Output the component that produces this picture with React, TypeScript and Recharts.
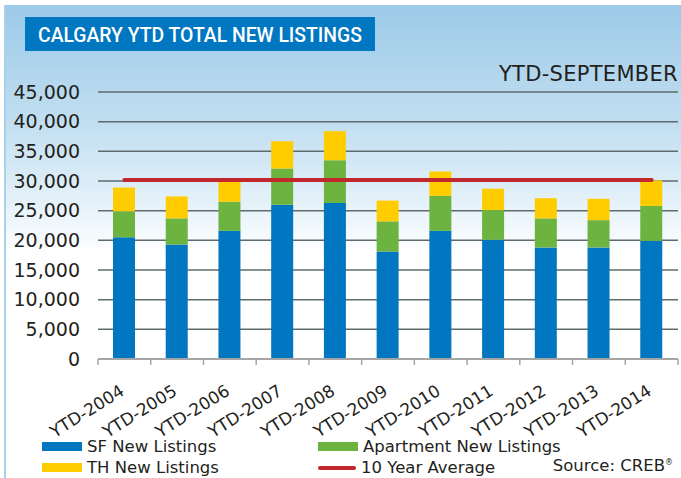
import { ComposedChart, Bar, Line, XAxis, YAxis, CartesianGrid, Legend } from 'recharts'

const years = ['YTD-2004', 'YTD-2005', 'YTD-2006', 'YTD-2007', 'YTD-2008', 'YTD-2009', 'YTD-2010', 'YTD-2011', 'YTD-2012', 'YTD-2013', 'YTD-2014']
const sfListings = [20500, 19300, 21600, 26000, 26300, 18100, 21600, 20100, 18800, 18800, 19900]
const apartmentListings = [4400, 4400, 4900, 6100, 7200, 5100, 5900, 5000, 4900, 4600, 5900]
const thListings = [4000, 3700, 3400, 4600, 4900, 3500, 4100, 3600, 3400, 3600, 4300]
const tenYearAverage = 30150
const yTicks = [0, 5000, 10000, 15000, 20000, 25000, 30000, 35000, 40000, 45000]
const legendOrder = ['SF New Listings', 'Apartment New Listings', 'TH New Listings', '10 Year Average']

const W = 681
const H = 478
const FONT = '"DejaVu Sans", sans-serif'
const TEXT = '#231f20'
const PLOT_LEFT = 98
const PLOT_RIGHT = 3

const data = years.map((name, i) => ({
  name,
  sf: sfListings[i],
  apt: apartmentListings[i],
  th: thListings[i],
  avg: tenYearAverage,
}))

function XTick(props: any) {
  const { x, y, payload, index } = props
  const half = (W - PLOT_LEFT - PLOT_RIGHT) / years.length / 2
  const last = index === years.length - 1
  const tx = x + 1
  const ty = y + 35
  return (
    <g>
      <line x1={x - half} x2={x - half} y1={y} y2={y + 6} stroke="#a6a6a6" strokeWidth={1.5} />
      {last && <line x1={x + half} x2={x + half} y1={y} y2={y + 6} stroke="#a6a6a6" strokeWidth={1.5} />}
      <text
        x={tx}
        y={ty}
        transform={`rotate(-32 ${tx} ${ty})`}
        textAnchor="end"
        fontFamily={FONT}
        fontSize={17}
        fill={TEXT}
      >
        {payload.value}
      </text>
    </g>
  )
}

function LegendContent({ payload }: any) {
  const items = [...(payload || [])].sort((a: any, b: any) => legendOrder.indexOf(a.value) - legendOrder.indexOf(b.value))
  return (
    <div style={{ display: 'grid', gridTemplateColumns: '276px 276px', rowGap: 2, fontFamily: FONT, fontSize: 16.5, color: TEXT }}>
      {items.map((item: any) => (
        <div key={item.value} style={{ display: 'flex', alignItems: 'center', height: 19 }}>
          {item.type === 'line' ? (
            <span style={{ width: 38, height: 4, borderRadius: 2, background: item.color, marginRight: 5 }} />
          ) : (
            <span style={{ width: 40, height: 9, background: item.color, marginRight: 5 }} />
          )}
          <span>{item.value}</span>
        </div>
      ))}
    </div>
  )
}

export default function App() {
  return (
    <div style={{ position: 'absolute', left: 0, top: 0, width: W, height: H, background: '#fff', overflow: 'hidden' }}>
      <div
        style={{
          position: 'absolute',
          left: 4,
          top: 5,
          right: 0,
          bottom: 0,
          borderLeft: '2px solid #a9d1eb',
          background: 'linear-gradient(to bottom, #9ccae8 0px, #c2dff1 120px, #e6f2fa 200px, #ffffff 250px)',
        }}
      />
      <svg style={{ position: 'absolute', left: 25, top: 17 }} width={420} height={34}>
        <rect width={350} height={34} fill="#0077c0" />
        <text
          x={13}
          y={25}
          textLength={324}
          lengthAdjust="spacingAndGlyphs"
          fontFamily="Roboto, sans-serif"
          fontWeight={500}
          fontSize={20}
          fill="#fff"
        >
          CALGARY YTD TOTAL NEW LISTINGS
        </text>
      </svg>
      <div style={{ position: 'absolute', right: 3, top: 62, fontFamily: FONT, fontSize: 21, letterSpacing: 0.3, color: TEXT, whiteSpace: 'nowrap' }}>
        YTD-SEPTEMBER
      </div>
      <div style={{ position: 'absolute', right: 8, top: 456, fontFamily: FONT, fontSize: 16.5, color: TEXT, whiteSpace: 'nowrap' }}>
        Source: CREB<sup style={{ fontSize: 8 }}>®</sup>
      </div>
      <div style={{ position: 'absolute', left: 0, top: 0 }}>
        <ComposedChart width={W} height={H} data={data} margin={{ top: 92, right: PLOT_RIGHT, left: 0, bottom: 89 }}>
          <CartesianGrid vertical={false} stroke="#5f6b6b" strokeWidth={1.5} />
          <XAxis
            dataKey="name"
            height={30}
            interval={0}
            tickSize={0}
            tickMargin={0}
            tickLine={false}
            axisLine={{ stroke: '#a6a6a6', strokeWidth: 2 }}
            tick={<XTick />}
          />
          <YAxis
            width={PLOT_LEFT}
            domain={[0, 45000]}
            ticks={yTicks}
            interval={0}
            axisLine={false}
            tickLine={false}
            tickSize={0}
            tickMargin={18}
            tickFormatter={(v: number) => v.toLocaleString('en-US')}
            tick={{ fontFamily: FONT, fontSize: 19, fill: TEXT }}
          />
          <Bar dataKey="sf" name="SF New Listings" stackId="a" fill="#0077c0" barSize={22} isAnimationActive={false} />
          <Bar dataKey="apt" name="Apartment New Listings" stackId="a" fill="#6db33f" barSize={22} isAnimationActive={false} />
          <Bar dataKey="th" name="TH New Listings" stackId="a" fill="#ffcc00" barSize={22} isAnimationActive={false} />
          <Line
            dataKey="avg"
            name="10 Year Average"
            type="linear"
            stroke="#c1272d"
            strokeWidth={4}
            strokeLinecap="round"
            dot={false}
            legendType="line"
            isAnimationActive={false}
          />
          <Legend
            layout="horizontal"
            verticalAlign="middle"
            align="center"
            content={<LegendContent />}
            wrapperStyle={{ left: 42, top: 437, width: 560 }}
          />
        </ComposedChart>
      </div>
    </div>
  )
}
